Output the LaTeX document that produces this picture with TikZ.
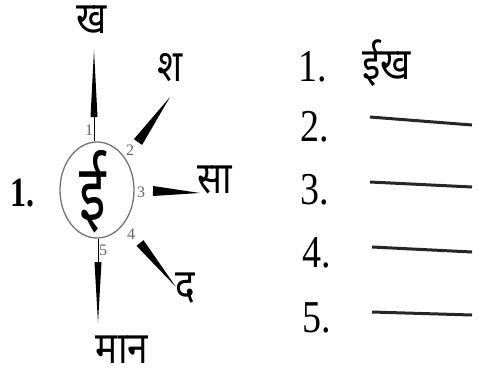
\documentclass[tikz,border=0pt]{standalone}
\usepackage{fontspec}
\usepackage{graphicx}
\setmainfont{Liberation Serif}
\newfontfamily\deva[Script=Devanagari]{Noto Sans}
\usetikzlibrary{calc,shapes.geometric}
% tapered spoke: base, tip, half width
\newcommand{\spike}[3]{\fill ($(#1)!#3!90:(#2)$) -- (#2) -- ($(#1)!#3!-90:(#2)$) -- cycle;}
% printed type is a little taller than wide
\newcommand{\tall}[2]{\scalebox{1}[#1]{#2}}

\begin{document}
\begin{tikzpicture}[x=1pt,y=-1pt,
  hindi/.style={font=\deva\bfseries\fontsize{37}{37}\selectfont, inner sep=0pt},
  listnum/.style={font=\fontsize{38}{38}\selectfont, inner sep=0pt},
  tick/.style={font=\fontsize{16}{16}\selectfont, text=black!60, inner sep=0pt},
  blank/.style={line width=3pt, black!85}]
  \useasboundingbox (0,0) rectangle (478,376);

  % centre letter
  \node[draw=black!55, line width=1.3pt, ellipse, minimum width=74pt, minimum height=96pt, inner sep=0pt] (core) at (97,190) {};
  \node[font=\deva\bfseries\fontsize{54}{54}\selectfont, inner sep=0pt] (vowel) at (93,192) {\tall{1.45}{ई}};
  \node[font=\bfseries\fontsize{32}{32}\selectfont, inner sep=0pt] (qno) at (22,193) {\tall{1.3}{1.}};

  % spokes
  \coordinate (b1) at (94,117);  \coordinate (t1) at (94,50);
  \coordinate (b2) at (138,142); \coordinate (t2) at (170,97);
  \coordinate (b3) at (153,191); \coordinate (t3) at (200,193);
  \coordinate (b4) at (140,243); \coordinate (t4) at (176,287);
  \coordinate (b5) at (98,262);  \coordinate (t5) at (98,323);
  \draw[line width=0.9pt] (b1) -- (b1 |- core.north);
  \draw[line width=0.9pt] (b5) -- (b5 |- core.south);
  \spike{b1}{t1}{3.5pt}
  \spike{b2}{t2}{5pt}
  \spike{b3}{t3}{5pt}
  \spike{b4}{t4}{4.5pt}
  \spike{b5}{t5}{3.5pt}

  % small numbers
  \node[tick] (n1) at (89,130) {1};
  \node[tick] (n2) at (130,150) {2};
  \node[tick] (n3) at (141,192) {3};
  \node[tick] (n4) at (131,234) {4};
  \node[tick] (n5) at (103,250) {5};

  % endings
  \node[hindi] (kha) at (92,20) {\tall{1.2}{ख}};
  \node[hindi] (sha) at (170,68) {\tall{1.2}{श}};
  \node[hindi] (saa) at (215,180) {\tall{1.2}{सा}};
  \node[hindi] (da) at (185,288) {\tall{1.2}{द}};
  \node[hindi] (maan) at (122,350) {\tall{1.2}{मान}};

  % answer list
  \node[listnum] (a1) at (313,67) {\tall{1.2}{1.}};
  \node[hindi] (w1) at (387,63) {\tall{1.2}{ईख}};
  \node[listnum] (a2) at (315,127) {\tall{1.2}{2.}};
  \node[listnum] (a3) at (315,190) {\tall{1.2}{3.}};
  \node[listnum] (a4) at (317,253) {\tall{1.2}{4.}};
  \node[listnum] (a5) at (317,318) {\tall{1.2}{5.}};
  \coordinate (l2) at (370,117); \coordinate (r2) at (472,125);
  \coordinate (l3) at (370,182); \coordinate (r3) at (472,187);
  \coordinate (l4) at (372,247); \coordinate (r4) at (472,252);
  \coordinate (l5) at (372,312); \coordinate (r5) at (472,315);
  \draw[blank] (l2) -- (r2);
  \draw[blank] (l3) -- (r3);
  \draw[blank] (l4) -- (r4);
  \draw[blank] (l5) -- (r5);
\end{tikzpicture}
\end{document}
